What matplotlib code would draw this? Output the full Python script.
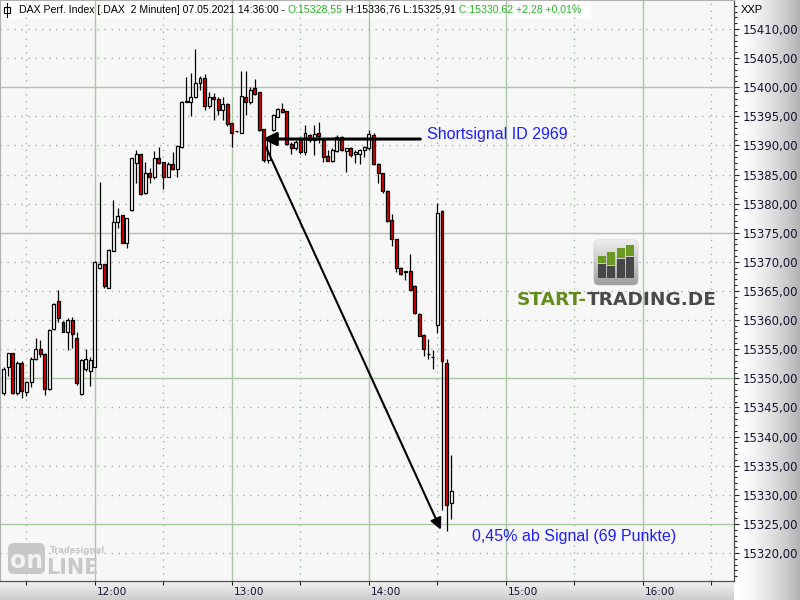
import numpy as np
import matplotlib
matplotlib.use("Agg")
import matplotlib.pyplot as plt
from matplotlib.patches import Rectangle, FancyBboxPatch
from matplotlib.ticker import MultipleLocator, FuncFormatter, FixedLocator
import matplotlib.transforms as mtransforms

# ---------------- data ----------------
first_bar_minute = -40          # 11:20, minutes relative to 12:00
bar_minutes = 2

opens = [15347.4, 15351.9, 15354.3, 15347.5, 15352.6, 15347.6, 15349.3, 15353.4, 15355.0, 15354.2,
         15348.1, 15358.4, 15363.2, 15359.6, 15358.0, 15360.0, 15356.9, 15347.3, 15351.6, 15351.2,
         15352.0, 15368.9, 15369.6, 15365.6, 15371.9, 15376.9, 15378.0, 15373.2, 15378.9, 15386.9,
         15388.5, 15381.8, 15385.2, 15384.6, 15387.8, 15387.1, 15384.6, 15386.8, 15386.0, 15389.8,
         15397.6, 15397.5, 15398.3, 15400.7, 15401.5, 15396.8, 15398.3, 15398.0, 15396.1, 15397.2,
         15393.8, 15392.4, 15392.2, 15398.3, 15397.5, 15399.8, 15399.1, 15392.8, 15387.5, 15392.6,
         15394.9, 15396.2, 15395.9, 15390.3, 15389.5, 15391.0, 15388.8, 15391.8, 15390.9, 15392.2,
         15390.9, 15388.2, 15387.4, 15389.0, 15391.4, 15389.1, 15389.5, 15388.5, 15388.5, 15389.3,
         15389.5, 15391.8, 15386.8, 15385.2, 15382.2, 15377.2, 15373.9, 15368.9, 15368.3, 15368.5,
         15365.9, 15361.1, 15357.5, 15354.2, 15353.6, 15359.2, 15378.8, 15352.6, 15328.55]
highs = [15351.9, 15354.4, 15354.4, 15352.9, 15352.9, 15349.6, 15353.7, 15357.0, 15356.6, 15354.3,
         15358.4, 15362.9, 15365.2, 15359.8, 15360.3, 15360.5, 15357.9, 15353.3, 15355.0, 15353.7,
         15370.2, 15383.8, 15369.7, 15372.2, 15380.7, 15379.2, 15378.1, 15377.6, 15387.9, 15389.2,
         15388.6, 15387.2, 15386.2, 15389.0, 15389.8, 15387.2, 15387.2, 15388.8, 15390.0, 15397.6,
         15401.7, 15402.4, 15406.5, 15401.9, 15402.3, 15399.2, 15399.0, 15398.3, 15398.3, 15397.3,
         15393.9, 15392.5, 15402.7, 15402.7, 15400.0, 15401.4, 15399.2, 15392.9, 15391.2, 15395.4,
         15396.4, 15397.3, 15396.0, 15390.6, 15390.9, 15391.5, 15393.5, 15392.0, 15393.5, 15394.1,
         15391.0, 15389.3, 15389.5, 15391.8, 15391.6, 15389.6, 15389.7, 15389.2, 15389.4, 15389.9,
         15392.7, 15392.2, 15386.9, 15385.3, 15382.3, 15378.3, 15374.0, 15369.2, 15368.5, 15371.4,
         15366.0, 15361.2, 15357.6, 15356.7, 15354.9, 15380.1, 15378.9, 15353.3, 15336.76]
lows = [15347.2, 15350.4, 15347.3, 15347.1, 15346.7, 15346.9, 15348.5, 15353.2, 15353.7, 15347.1,
        15348.0, 15358.3, 15359.7, 15357.9, 15354.8, 15355.2, 15348.9, 15347.1, 15351.2, 15348.7,
        15351.9, 15368.8, 15365.5, 15365.5, 15371.8, 15375.8, 15373.2, 15372.3, 15378.8, 15383.6,
        15381.5, 15381.7, 15383.6, 15384.3, 15386.8, 15382.6, 15384.5, 15385.8, 15384.6, 15389.5,
        15397.4, 15395.1, 15398.2, 15399.5, 15396.1, 15396.4, 15394.3, 15395.2, 15394.4, 15393.3,
        15389.7, 15392.3, 15392.1, 15395.2, 15397.2, 15398.7, 15392.5, 15387.2, 15387.0, 15392.4,
        15394.8, 15395.6, 15390.1, 15388.6, 15389.2, 15388.6, 15388.4, 15390.6, 15388.4, 15390.4,
        15387.2, 15387.3, 15387.2, 15388.9, 15389.1, 15385.5, 15388.1, 15386.9, 15386.8, 15388.1,
        15389.2, 15386.6, 15383.6, 15381.9, 15376.9, 15372.7, 15368.2, 15367.8, 15366.9, 15365.1,
        15361.1, 15357.2, 15353.9, 15353.3, 15351.6, 15357.7, 15327.4, 15323.7, 15325.91]
closes = [15351.6, 15354.3, 15347.4, 15352.6, 15347.9, 15349.3, 15353.4, 15355.0, 15354.2, 15348.1,
          15358.3, 15362.8, 15360.3, 15358.0, 15360.0, 15357.6, 15349.2, 15353.2, 15353.3, 15353.2,
          15370.0, 15369.6, 15365.8, 15372.0, 15376.8, 15377.9, 15373.3, 15377.5, 15387.8, 15388.5,
          15381.7, 15385.2, 15384.6, 15387.8, 15387.0, 15384.6, 15386.8, 15386.0, 15389.9, 15397.5,
          15397.5, 15398.3, 15400.8, 15401.5, 15396.8, 15398.3, 15397.9, 15396.1, 15397.2, 15393.7,
          15392.2, 15392.4, 15398.5, 15397.5, 15399.5, 15398.8, 15392.7, 15387.5, 15390.9, 15395.2,
          15396.2, 15395.8, 15390.3, 15389.5, 15390.6, 15388.8, 15392.2, 15391.0, 15391.9, 15391.6,
          15388.1, 15387.4, 15389.2, 15391.5, 15389.2, 15389.5, 15388.4, 15388.9, 15389.3, 15389.7,
          15392.0, 15386.8, 15385.2, 15382.1, 15377.1, 15373.9, 15368.9, 15367.9, 15368.3, 15365.2,
          15361.2, 15357.3, 15355.0, 15354.2, 15353.6, 15378.4, 15352.9, 15328.3, 15330.62]

hour_ticks = [0, 60, 120, 180, 240]
hour_labels = ["12:00", "13:00", "14:00", "15:00", "16:00"]
half_hour_ticks = [-30, 30, 90, 150, 210, 270]

major_price_lines = [15325, 15350, 15375, 15400]

signal_time, signal_price = 73.5, 15391.1          # short signal entry
signal_line_end_time = 142.5
target_time, target_price = 151.5, 15324.0
signal_label = "Shortsignal ID 2969"
result_label = "0,45% ab Signal (69 Punkte)"

header_parts = [("DAX Perf. Index [.DAX  2 Minuten] 07.05.2021 14:36:00 - ", "black"),
                ("O:15328,55", "#22b422"),
                (" H:15336,76 L:15325,91", "black"),
                (" C:15330,62 +2,28 +0,01%", "#22b422")]

# ---------------- figure ----------------
W, H = 800, 600
fig = plt.figure(figsize=(8, 6), dpi=100)
fig.patch.set_facecolor("white")

# background gradients (axis strips)
bg = fig.add_axes([0, 0, 1, 1], zorder=-5)
bg.set_xlim(0, W); bg.set_ylim(H, 0); bg.axis("off")
g = np.linspace(0, 1, 256) ** 1.6
right_grad = np.tile((1.0 - 0.30 * g)[None, :], (2, 1))
bg.imshow(right_grad, cmap="gray", vmin=0, vmax=1, extent=(734, 800, 600, 0), aspect="auto")
gb = np.linspace(0, 1, 64)
bottom_grad = np.tile((0.95 - 0.15 * gb)[:, None], (1, 2))
bg.imshow(bottom_grad, cmap="gray", vmin=0, vmax=1, extent=(0, 734, 600, 581), aspect="auto")

ax = fig.add_axes([0, 19 / H, 734 / W, 581 / H], zorder=1)
ax.set_facecolor("#f7f7f7")
ax.set_xlim(-41.6, 279.9)
ax.set_ylim(15315.19, 15414.98)

# header white box (under grid)
ax.add_patch(Rectangle((0, 1 - 19 / 581), 591 / 734, 19 / 581, transform=ax.transAxes,
                       facecolor="white", edgecolor="none", zorder=0.2))

solid_c = "#a9c8a3"
dot_c = "#9db59d"
for t in hour_ticks:
    ax.axvline(t, color=solid_c, lw=1.0, zorder=1)
for t in half_hour_ticks:
    ax.axvline(t, color=dot_c, lw=1.0, ls=(0, (1, 4)), zorder=1)
for p in np.arange(15320, 15415, 5):
    if p in major_price_lines:
        ax.axhline(p, color=solid_c, lw=1.0, zorder=1)
    else:
        ax.axhline(p, color=dot_c, lw=1.0, ls=(0, (1, 4)), zorder=1)

# candles
o = np.array(opens); h = np.array(highs); l = np.array(lows); c = np.array(closes)
times = first_bar_minute + bar_minutes * np.arange(len(o))
ax.vlines(times, l, h, color="black", lw=0.9, zorder=3)
up = c >= o
body_col = np.where(up, "white", "#e00000")
bottoms = np.minimum(o, c)
heights = np.maximum(np.abs(c - o), 0.05)
ax.bar(times, heights, bottom=bottoms, width=1.3, color=body_col,
       edgecolor="black", linewidth=0.9, zorder=4)

# annotations
ax.annotate("", xy=(signal_time, signal_price), xytext=(signal_line_end_time, signal_price),
            arrowprops=dict(arrowstyle="-|>", lw=2.2, color="black", mutation_scale=20,
                            shrinkA=0, shrinkB=0), zorder=6)
ax.annotate("", xy=(target_time, target_price), xytext=(signal_time + 1.4, signal_price - 1.4),
            arrowprops=dict(arrowstyle="-|>", lw=1.5, color="black", mutation_scale=17,
                            shrinkA=0, shrinkB=0), zorder=6)
ax.text(145.4, 15391.8, signal_label, color="#1e1eff", fontsize=11.5,
        family="Liberation Sans", va="center", ha="left", zorder=7)
ax.text(165.1, 15322.9, result_label, color="#1e1eff", fontsize=11.5,
        family="Liberation Sans", va="center", ha="left", zorder=7)

# axes styling
for s in ["left", "top"]:
    ax.spines[s].set_color("#b0b0b0"); ax.spines[s].set_linewidth(0.8)
for s in ["right", "bottom"]:
    ax.spines[s].set_color("#505050"); ax.spines[s].set_linewidth(0.9)

ax.yaxis.tick_right()
ax.yaxis.set_major_locator(MultipleLocator(5))
ax.yaxis.set_minor_locator(MultipleLocator(1))
ax.yaxis.set_major_formatter(FuncFormatter(lambda v, pos: f"{v:.2f}".replace(".", ",")))
ax.tick_params(axis="y", which="major", length=3.5, width=0.8, color="#202020",
               pad=2.5, labelsize=8.4, labelcolor="#141432")
ax.tick_params(axis="y", which="minor", length=2.2, width=0.8, color="#202020")

ax.xaxis.set_major_locator(FixedLocator(hour_ticks))
ax.xaxis.set_minor_locator(FixedLocator(half_hour_ticks))
ax.set_xticklabels(hour_labels)
ax.tick_params(axis="x", which="both", length=3, width=0.8, color="#202020",
               pad=1.5, labelsize=7.6, labelcolor="#141432")
off = mtransforms.ScaledTranslation(2 / 100, 0, fig.dpi_scale_trans)
for lab in ax.get_xticklabels():
    lab.set_ha("left")
    lab.set_transform(lab.get_transform() + off)
for lab in ax.get_yticklabels() + ax.get_xticklabels():
    lab.set_family("DejaVu Sans")

# ---------------- overlay (header, logos) ----------------
ov = fig.add_axes([0, 0, 1, 1], zorder=10)
ov.set_xlim(0, W); ov.set_ylim(H, 0); ov.axis("off"); ov.patch.set_alpha(0)

# header icon
ov.plot([6.5, 6.5], [3, 17], color="black", lw=0.8)
ov.add_patch(Rectangle((3.5, 7), 6, 6, facecolor="white", edgecolor="black", lw=0.8))
prev = ov.text(19, 10, header_parts[0][0], color=header_parts[0][1], fontsize=7.6,
               family="Liberation Sans", va="center", ha="left")
for txt, col in header_parts[1:]:
    prev = ov.annotate(txt, xy=(1, 0), xycoords=prev, color=col, fontsize=7.6,
                       family="Liberation Sans", va="bottom", ha="left")
ov.text(741, 10, "XXP", fontsize=8, family="Liberation Sans", va="center", ha="left", color="black")

# START-TRADING.DE logo
icon = FancyBboxPatch((594, 240), 44, 45, boxstyle="round,pad=0,rounding_size=5",
                      facecolor="#d0d0d0", edgecolor="#c0c0c0", lw=0.5)
ov.add_patch(icon)
grad = np.linspace(0.93, 0.62, 64)[:, None] * np.ones((1, 2))
im = ov.imshow(grad, cmap="gray", vmin=0, vmax=1, extent=(594, 638, 285, 240), aspect="auto", zorder=2)
im.set_clip_path(icon)
bar_x = [597.5, 607, 616.5, 626]
green_top = [255.7, 252.3, 248.3, 245.0]
dark_top = [263.3, 265.0, 258.3, 255.7]
for bx, gt, dt in zip(bar_x, green_top, dark_top):
    ov.add_patch(Rectangle((bx, gt), 8, dt - gt, facecolor="#6b9a22", edgecolor="none", zorder=3))
    ov.add_patch(Rectangle((bx, dt + 1), 8, 278.3 - dt - 1, facecolor="#474747", edgecolor="none", zorder=3))
t1 = ov.text(517, 305, "START-", color="#628d1d", fontsize=13.3, fontweight="bold",
             family="DejaVu Sans", va="baseline", ha="left")
ov.annotate("TRADING.DE", xy=(1, 0), xycoords=t1, color="#4a4a4a", fontsize=13.3,
            fontweight="bold", family="DejaVu Sans", va="bottom", ha="left")

# Tradesignal online logo
ov.add_patch(FancyBboxPatch((8, 543), 37, 31, boxstyle="round,pad=0,rounding_size=6",
                            facecolor="#c8c8c8", edgecolor="none"))
ov.text(26.5, 561, "on", color="#f2f2f2", fontsize=17, fontweight="bold",
        family="DejaVu Sans", ha="center", va="center")
ov.text(46, 574, "LINE", color="#c8c8c8", fontsize=15, fontweight="bold",
        family="DejaVu Sans", ha="left", va="baseline")
ov.text(50, 553, "Tradesignal", color="#c8c8c8", fontsize=6, fontweight="bold",
        family="DejaVu Sans", ha="left", va="baseline")

fig.savefig("out.png", dpi=100)
